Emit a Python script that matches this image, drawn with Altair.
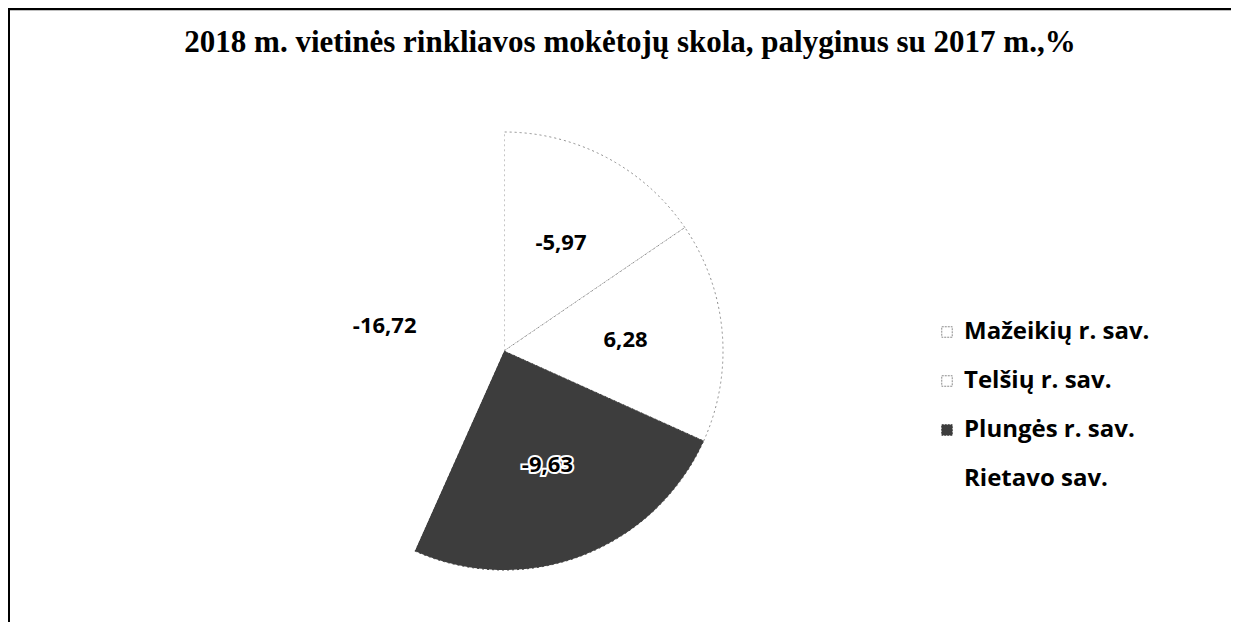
import altair as alt
import pandas as pd

regions = ["Mažeikių r. sav.", "Telšių r. sav.", "Plungės r. sav.", "Rietavo sav."]
changes = [-5.97, 6.28, -9.63, -16.72]
fills = ["#ffffff", "#ffffff", "#3d3d3d", "#ffffff"]
strokes = ["#8c8c8c", "#8c8c8c", "#3d3d3d", "transparent"]
title_text = "2018 m. vietinės rinkliavos mokėtojų  skola, palyginus su 2017 m.,%"

df = pd.DataFrame({"region": regions, "change": changes, "idx": list(range(len(regions)))})

W, H = 1223, 614
CX, CY, R = 496, 343, 219

base = alt.Chart(df).transform_calculate(
    mag="abs(datum.change)",
    label="replace(toString(datum.change), '.', ',')",
)

theta = alt.Theta("mag:Q", stack=True)
order = alt.Order("idx:Q", sort="ascending")

leg = dict(
    title=None,
    orient="none",
    legendX=927,
    legendY=312,
    symbolType="square",
    symbolSize=110,
    symbolStrokeWidth=1,
    symbolDash=[2, 1],
    labelFont="Open Sans",
    labelFontWeight="bold",
    labelFontSize=24,
    labelColor="#000000",
    labelOffset=5,
    labelLimit=0,
    rowPadding=25,
    padding=0,
)

pie = base.mark_arc(radius=R, strokeWidth=1, strokeDash=[2, 3]).encode(
    x=alt.value(CX),
    y=alt.value(CY),
    theta=theta,
    order=order,
    color=alt.Color(
        "region:N",
        scale=alt.Scale(domain=regions, range=fills),
        sort=regions,
        legend=alt.Legend(**leg),
    ),
    stroke=alt.Stroke(
        "region:N",
        scale=alt.Scale(domain=regions, range=strokes),
        sort=regions,
        legend=alt.Legend(**leg),
    ),
)

halo = base.mark_text(
    radius=122, font="Open Sans", fontWeight="bold", fontSize=22,
    fill="#ffffff", stroke="#ffffff", strokeWidth=4,
).encode(x=alt.value(CX), y=alt.value(CY), theta=theta, order=order, text="label:N")

labels = base.mark_text(
    radius=122, font="Open Sans", fontWeight="bold", fontSize=22, color="#000000",
).encode(x=alt.value(CX), y=alt.value(CY), theta=theta, order=order, text="label:N")

title = alt.Chart(pd.DataFrame({"t": [title_text]})).mark_text(
    font="Liberation Serif", fontWeight="bold", fontSize=31, color="#000000",
    align="center", baseline="middle",
).encode(x=alt.value(622), y=alt.value(35), text="t:N")

frame_top = alt.Chart(pd.DataFrame({"a": [0]})).mark_rule(color="#000000", strokeWidth=2.5).encode(
    x=alt.value(0), x2=alt.value(W), y=alt.value(1)
)
frame_left = alt.Chart(pd.DataFrame({"a": [0]})).mark_rule(color="#000000", strokeWidth=2).encode(
    x=alt.value(1), y=alt.value(0), y2=alt.value(H)
)

chart = alt.layer(pie, halo, labels, title, frame_top, frame_left).properties(
    width=W, height=H, padding=0, autosize=alt.AutoSizeParams(type="none"),
    background="#ffffff",
).configure_view(stroke=None)

chart.save("out.html", embed_options={"renderer": "svg", "actions": False})
